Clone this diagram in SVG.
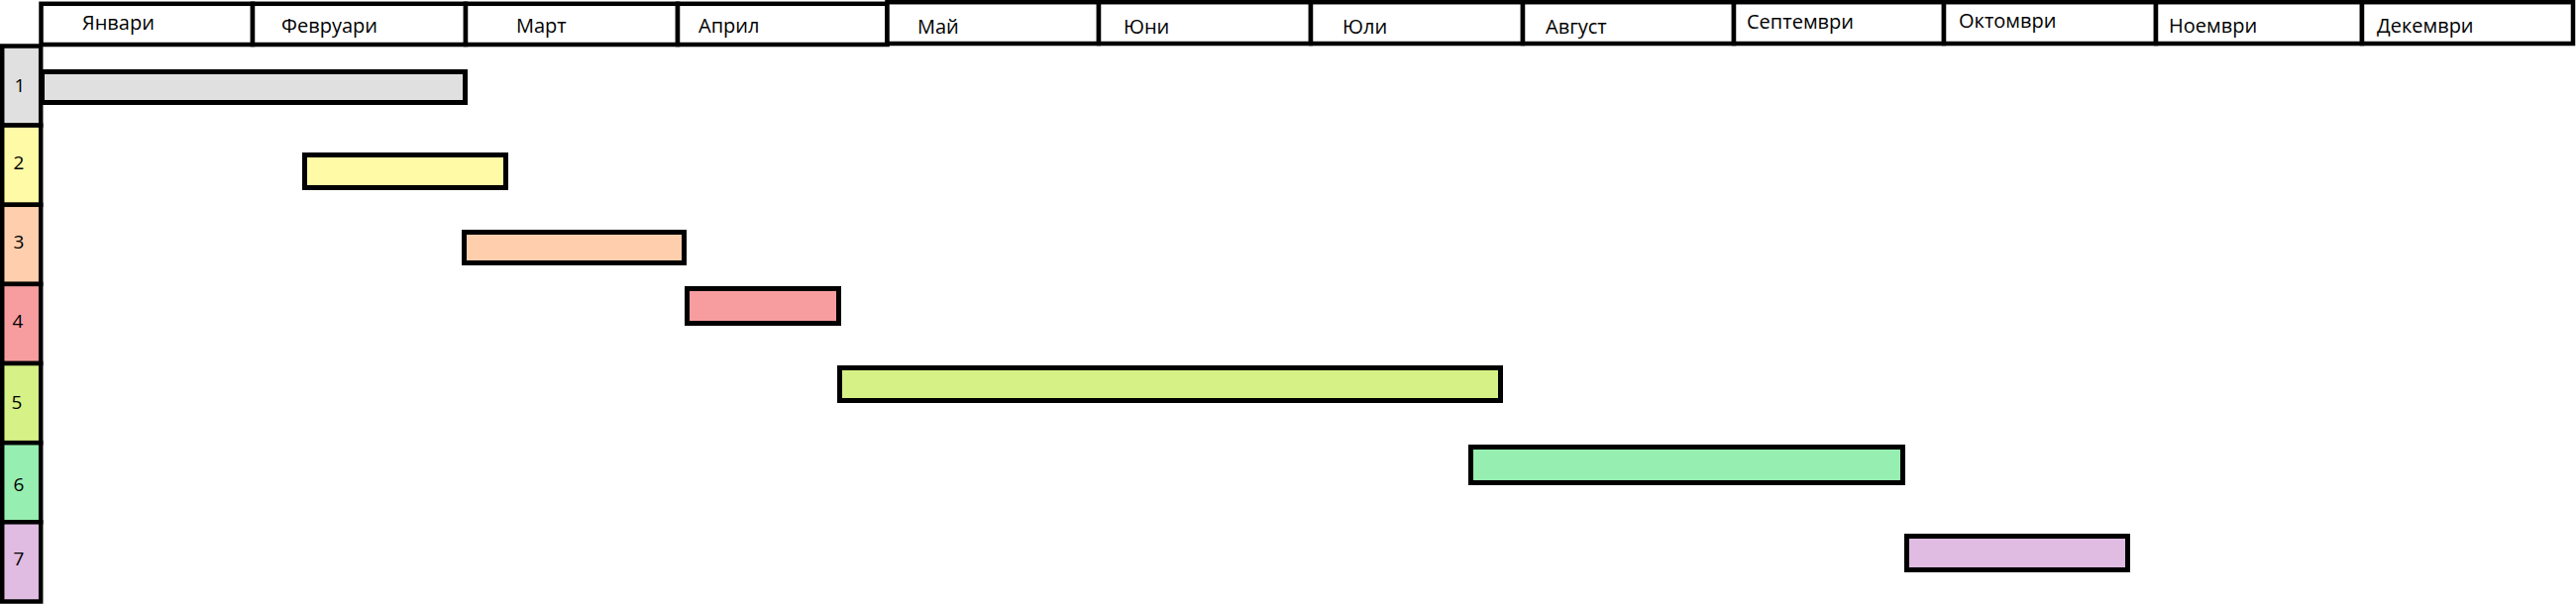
<svg xmlns="http://www.w3.org/2000/svg" width="2600" height="610" viewBox="0 0 2600 610">
<style>
.hdr{fill:#ffffff;stroke:#000;stroke-width:4.5}
.ht{font-family:"Open Sans","Liberation Sans",sans-serif;font-size:20px;fill:#000}
.lbl{stroke:#000;stroke-width:4.5}
.lt{font-family:"Open Sans","Liberation Sans",sans-serif;font-size:19px;fill:#000;text-anchor:middle}
.bar{stroke:#000;stroke-width:5}
.c1{fill:#e0e0e0}.c2{fill:#fffaa5}.c3{fill:#ffcfad}.c4{fill:#f79da0}.c5{fill:#d6f185}.c6{fill:#96eeb0}.c7{fill:#e0bbe2}
</style>
<rect width="2600" height="610" fill="#ffffff"/>
<g id="header">
<g id="m01"><rect class="hdr" x="41.5" y="3.8" width="213.5" height="41.2"/><text class="ht" x="83" y="30">Январи</text></g>
<g id="m02"><rect class="hdr" x="255" y="3.8" width="215" height="41.2"/><text class="ht" x="284" y="33">Февруари</text></g>
<g id="m03"><rect class="hdr" x="470" y="3.8" width="214" height="41.2"/><text class="ht" x="521" y="33">Март</text></g>
<g id="m04"><rect class="hdr" x="684" y="3.8" width="211.5" height="41.2"/><text class="ht" x="705" y="33">Април</text></g>
<g id="m05"><rect class="hdr" x="895.5" y="2.2" width="213.5" height="41.8"/><text class="ht" x="926" y="34">Май</text></g>
<g id="m06"><rect class="hdr" x="1109" y="2.2" width="214" height="41.8"/><text class="ht" x="1134" y="34">Юни</text></g>
<g id="m07"><rect class="hdr" x="1323" y="2.2" width="214" height="41.8"/><text class="ht" x="1355" y="34">Юли</text></g>
<g id="m08"><rect class="hdr" x="1537" y="2.2" width="213" height="41.8"/><text class="ht" x="1560" y="34">Август</text></g>
<g id="m09"><rect class="hdr" x="1750" y="2.2" width="212" height="41.8"/><text class="ht" x="1763" y="29">Септември</text></g>
<g id="m10"><rect class="hdr" x="1962" y="2.2" width="214" height="41.8"/><text class="ht" x="1977" y="28">Октомври</text></g>
<g id="m11"><rect class="hdr" x="2176" y="2.2" width="208" height="41.8"/><text class="ht" x="2189" y="33">Ноември</text></g>
<g id="m12"><rect class="hdr" x="2384" y="2.2" width="213" height="41.8"/><text class="ht" x="2399" y="33">Декември</text></g>
</g>
<g id="labels">
<g id="r1"><rect class="lbl c1" x="2.2" y="46.5" width="39" height="80.1"/><text class="lt" x="20" y="93">1</text></g>
<g id="r2"><rect class="lbl c2" x="2.2" y="126.6" width="39" height="80.2"/><text class="lt" x="19" y="171">2</text></g>
<g id="r3"><rect class="lbl c3" x="2.2" y="206.8" width="39" height="80.1"/><text class="lt" x="19" y="251">3</text></g>
<g id="r4"><rect class="lbl c4" x="2.2" y="286.9" width="39" height="80.1"/><text class="lt" x="18" y="331">4</text></g>
<g id="r5"><rect class="lbl c5" x="2.2" y="367" width="39" height="80.2"/><text class="lt" x="17" y="413">5</text></g>
<g id="r6"><rect class="lbl c6" x="2.2" y="447.2" width="39" height="80.1"/><text class="lt" x="19" y="496">6</text></g>
<g id="r7"><rect class="lbl c7" x="2.2" y="527.3" width="39" height="80.2"/><text class="lt" x="19" y="571">7</text></g>
</g>
<g id="bars">
<g id="b1"><rect class="bar c1" x="42.5" y="72.5" width="427" height="31"/></g>
<g id="b2"><rect class="bar c2" x="307.5" y="156.5" width="203" height="33"/></g>
<g id="b3"><rect class="bar c3" x="468.5" y="234.5" width="222" height="31"/></g>
<g id="b4"><rect class="bar c4" x="693.5" y="291.5" width="153" height="35"/></g>
<g id="b5"><rect class="bar c5" x="847.5" y="371.5" width="667" height="33"/></g>
<g id="b6"><rect class="bar c6" x="1484.5" y="451.5" width="436" height="36"/></g>
<g id="b7"><rect class="bar c7" x="1924.5" y="541.5" width="223" height="34"/></g>
</g>
<g id="connectors"/>
</svg>
